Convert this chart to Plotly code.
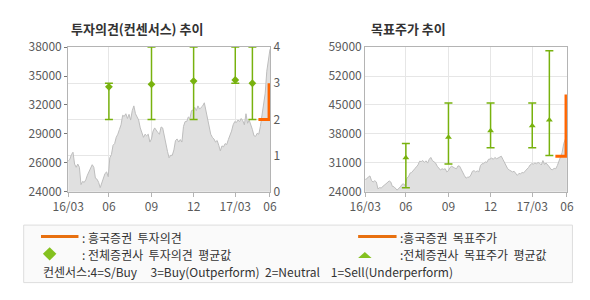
import pandas as pd
import plotly.graph_objects as go

# ---- data ----
price = [26980, 27130, 27590, 27830, 26680, 26370, 26680, 26370, 24700, 25000,
         24910, 25160, 25610, 25920, 26220, 26620, 26370, 25310, 25220, 24910,
         24400, 24850, 25160, 25770, 25920, 25460, 27290, 27590, 28500, 28660,
         29270, 29570, 30030, 30480, 31400, 31300, 31550, 31090, 31490, 30940,
         31850, 32310, 31550, 31180, 30940, 30180, 29720, 29270, 29570, 29420,
         29570, 28810, 29110, 29870, 30180, 29870, 29720, 29570, 30270, 30180,
         29420, 28350, 27900, 27290, 27530, 27530, 28050, 28960, 29110, 28810,
         29050, 28810, 30330, 30790, 30790, 31240, 31090, 31850, 31910, 32160,
         31850, 32310, 32000, 32160, 32310, 32610, 31850, 31090, 30030, 29570,
         29270, 29110, 28810, 28960, 28500, 27960, 28440, 28350, 28660, 28570,
         29050, 29420, 29870, 30480, 30790, 30700, 30940, 30790, 31090, 30880,
         30480, 31550, 30630, 30940, 30570, 30030, 29420, 29360, 29660, 29570,
         30330, 31550, 32770, 33530, 35660, 36870, 37790]
price_start = "2016-03-05"
price_end = "2017-05-15"
dates = pd.date_range(price_start, price_end, periods=len(price))

cons_dates = ["2016-06-01", "2016-09-01", "2016-12-01", "2017-03-01", "2017-04-07"]
cons_mean = [2.9, 2.97, 3.06, 3.09, 3.0]
cons_max = [3, 4, 4, 4, 4]
cons_min = [2, 2, 2, 3, 2]

tp_mean = [32220, 37160, 38760, 39980, 41350]
tp_max = [35700, 45500, 45500, 45500, 58100]
tp_min = [25000, 30700, 34650, 34650, 32750]

hk_dates = ["2017-04-20", "2017-05-13", "2017-05-13"]
hk_opinion = [2, 2, 3]
hk_target = [32600, 32600, 47500]

x_tickvals = [price_start, "2016-06-01", "2016-09-01", "2016-12-01", "2017-03-01", price_end]
x_ticktext = ["16/03", "06", "09", "12", "17/03", "06"]
left_tickvals = [24000, 26800, 29600, 32400, 35200, 38000]
left_ticktext = ["24000", "26000", "29000", "32000", "35000", "38000"]
right_tickvals = [24000, 31000, 38000, 45000, 52000, 59000]
right_ticktext = ["24000", "31000", "38000", "45000", "52000", "59000"]

GREEN = "#78b20e"
ORANGE = "#ff6600"
GRID = "#e6e6e6"
LINE = "#b4b4b4"
TXT = "#5a5a5a"
FONT = "Noto Sans CJK KR"

fig = go.Figure()

# left chart: price area
fig.add_trace(go.Scatter(x=dates, y=price, mode="lines", fill="tozeroy",
                         line=dict(color="#bdbdbd", width=1), fillcolor="#e0e0e0",
                         xaxis="x", yaxis="y", hoverinfo="skip"))
fig.add_trace(go.Scatter(x=cons_dates, y=cons_mean, mode="markers",
                         marker=dict(symbol="diamond", size=6, color=GREEN),
                         error_y=dict(type="data", symmetric=False,
                                      array=[a - m for a, m in zip(cons_max, cons_mean)],
                                      arrayminus=[m - b for b, m in zip(cons_min, cons_mean)],
                                      color=GREEN, thickness=1.5, width=4),
                         xaxis="x", yaxis="y2", cliponaxis=False))
fig.add_trace(go.Scatter(x=hk_dates, y=hk_opinion, mode="lines",
                         line=dict(color=ORANGE, width=3), xaxis="x", yaxis="y2"))

# right chart
fig.add_trace(go.Scatter(x=dates, y=price, mode="lines", fill="tozeroy",
                         line=dict(color="#bdbdbd", width=1), fillcolor="#e0e0e0",
                         xaxis="x2", yaxis="y3", hoverinfo="skip"))
fig.add_trace(go.Scatter(x=cons_dates, y=tp_mean, mode="markers",
                         marker=dict(symbol="triangle-up", size=6, color=GREEN),
                         error_y=dict(type="data", symmetric=False,
                                      array=[a - m for a, m in zip(tp_max, tp_mean)],
                                      arrayminus=[m - b for b, m in zip(tp_min, tp_mean)],
                                      color=GREEN, thickness=1.5, width=4),
                         xaxis="x2", yaxis="y3", cliponaxis=False))
fig.add_trace(go.Scatter(x=hk_dates, y=hk_target, mode="lines",
                         line=dict(color=ORANGE, width=3), xaxis="x2", yaxis="y3"))

ydom = [1 - 192.7 / 300, 1 - 39.3 / 300]
tfont = dict(size=12, color=TXT, family=FONT)
xcommon = dict(type="date", range=[price_start, price_end], tickvals=x_tickvals,
               ticktext=x_ticktext, showgrid=True, gridcolor=GRID, gridwidth=1,
               showline=True, linecolor=LINE, mirror=True, ticks="outside",
               ticklen=4, tickcolor=LINE, tickfont=tfont,
               zeroline=False, fixedrange=True)

fig.update_layout(
    width=590, height=300, margin=dict(l=0, r=0, t=0, b=0),
    paper_bgcolor="white", plot_bgcolor="white", showlegend=False,
    font=dict(family=FONT, color=TXT),
    xaxis=dict(domain=[54.3 / 590, 264.3 / 590], anchor="y", **xcommon),
    xaxis2=dict(domain=[363.3 / 590, 573.3 / 590], anchor="y3", **xcommon),
    yaxis=dict(domain=ydom, range=[24000, 38000], tickvals=left_tickvals,
               ticktext=left_ticktext, showgrid=False, showline=True, linecolor=LINE,
               ticks="outside", ticklen=3, tickcolor="#777", zeroline=False,
               tickfont=tfont, anchor="x"),
    yaxis2=dict(domain=ydom, range=[0, 4], overlaying="y", side="right", anchor="x",
                tickvals=[0, 1, 2, 3, 4], showgrid=True, gridcolor=GRID,
                showline=True, linecolor=LINE, zeroline=False, tickfont=tfont),
    yaxis3=dict(domain=ydom, range=[24000, 59000], tickvals=right_tickvals,
                ticktext=right_ticktext,
                showgrid=True, gridcolor=GRID, showline=True, linecolor=LINE,
                mirror=True, zeroline=False, anchor="x2", tickfont=tfont),
)

# titles
fig.add_annotation(x=55 / 590, y=1 - 20 / 300, xref="paper", yref="paper",
                   text="<b>투자의견(컨센서스) 추이</b>", showarrow=False,
                   xanchor="left", yanchor="middle",
                   font=dict(size=13, color="#333333", family=FONT))
fig.add_annotation(x=367 / 590, y=1 - 20 / 300, xref="paper", yref="paper",
                   text="<b>목표주가 추이</b>", showarrow=False,
                   xanchor="left", yanchor="middle",
                   font=dict(size=13, color="#333333", family=FONT))

# legend box
def px(xv):
    return xv / 590

def py(yv):
    return 1 - yv / 300

fig.add_shape(type="rect", xref="paper", yref="paper", x0=px(8), x1=px(579),
              y0=py(289), y1=py(228), fillcolor="#fafafa",
              line=dict(color="#dddddd", width=1), layer="below")
fig.add_shape(type="line", xref="paper", yref="paper", x0=px(26), x1=px(65),
              y0=py(240), y1=py(240), line=dict(color="#e8700f", width=3))
fig.add_shape(type="line", xref="paper", yref="paper", x0=px(356), x1=px(396),
              y0=py(240), y1=py(240), line=dict(color="#e8700f", width=3))
fig.add_shape(type="path", xref="paper", yref="paper",
              path=f"M {px(35)} {py(251.5)} L {px(42)} {py(258.5)} L {px(35)} {py(265.5)} L {px(28)} {py(258.5)} Z",
              fillcolor="#84c11f", line=dict(width=0))
fig.add_shape(type="path", xref="paper", yref="paper",
              path=f"M {px(363)} {py(256.5)} L {px(370)} {py(263)} L {px(356)} {py(263)} Z",
              fillcolor="#84c11f", line=dict(width=0))

leg_font = dict(size=12, color="#333333", family=FONT)
for (xx, yy, t) in [(67, 241, ": 흥국증권  투자의견"),
                    (67, 259, ": 전체증권사  투자의견  평균값"),
                    (397, 241, ":흥국증권  목표주가"),
                    (397, 259, ":전체증권사  목표주가  평균값"),
                    (26, 277, "컨센서스:4=S/Buy&nbsp;&nbsp;&nbsp;&nbsp;&nbsp;3=Buy(Outperform)&nbsp;&nbsp;2=Neutral&nbsp;&nbsp;&nbsp;&nbsp;1=Sell(Underperform)")]:
    fig.add_annotation(x=px(xx), y=py(yy), xref="paper", yref="paper", text=t,
                       showarrow=False, xanchor="left", yanchor="middle", font=leg_font)

fig.write_html("out.html")
